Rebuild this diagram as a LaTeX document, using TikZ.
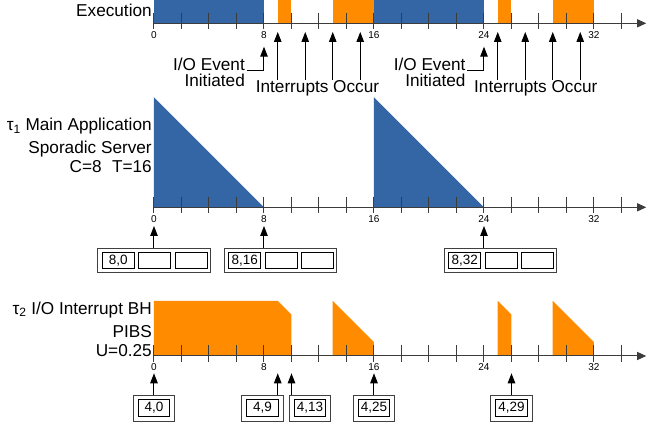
\documentclass[tikz,border=0pt]{standalone}
\usepackage{fontspec}
\setmainfont{Liberation Sans}
\usepackage{xcolor}
\usetikzlibrary{arrows.meta,positioning,calc}
\definecolor{ServerBlue}{RGB}{52,101,164}
\definecolor{BHOrange}  {RGB}{255,140,  0}
\definecolor{AxisGray}  {RGB}{ 60, 60, 60}
\tikzset{
  lbl/.style={inner sep=0pt, font=\fontsize{17.2}{19}\selectfont},
  ticklbl/.style={inner sep=0pt, font=\fontsize{10}{12}\selectfont},
  axisline/.style={AxisGray, line width=1pt, -{Triangle[length=9pt,width=8pt]}},
  tickline/.style={AxisGray, line width=1pt},
  arr/.style={line width=1pt, -{Triangle[length=10pt,width=7.5pt]}},
  shell/.style={draw=black!75, line width=0.9pt, inner sep=0pt},
  cell/.style={draw=black, fill=white, line width=0.9pt, inner sep=0pt,
               minimum width=32pt, minimum height=16.7pt,
               font=\fontsize{13.5}{14}\selectfont},
}
% time axis of one row: 2-unit ticks, labels every 8
\newcommand{\timeaxis}{%
  \draw[axisline] (0,0) -- (35.8,0);
  \foreach \t in {0,2,...,34} \draw[tickline] (\t,10.6) -- (\t,-6);
  \foreach \t in {0,8,...,32} \node[ticklbl] at (\t,-11.3) {\t};
}

\begin{document}
\begin{tikzpicture}[x=13.75pt, y=1pt]
  \useasboundingbox (-11.2,0) rectangle (35.855,-430);

  % Execution row
  \begin{scope}[yshift=-23.3pt]
    \fill[ServerBlue] (0,0)  rectangle (8,23.6);
    \fill[BHOrange]   (9,0)  rectangle (10,23.6);
    \fill[BHOrange]   (13,0) rectangle (16,23.6);
    \fill[ServerBlue] (16,0) rectangle (24,23.6);
    \fill[BHOrange]   (25,0) rectangle (26,23.6);
    \fill[BHOrange]   (29,0) rectangle (32,23.6);
    \timeaxis
    \node[lbl, anchor=base east] (exec) at (-0.15,6.3) {Execution};
    % I/O events
    \node[lbl, anchor=north east, align=right, font=\fontsize{17.2}{16}\selectfont]
      (ioA) at (6.62,-34.7) {I/O Event\\Initiated};
    \node[lbl, anchor=north east, align=right, font=\fontsize{17.2}{16}\selectfont]
      (ioB) at (22.67,-34.7) {I/O Event\\Initiated};
    \coordinate (ioTipA) at (8,-23.4);
    \coordinate (ioTipB) at (24,-23.4);
    \draw[arr] ([xshift=1.5pt,yshift=-13pt]ioA.north east) -| (ioTipA);
    \draw[arr] ([xshift=1.5pt,yshift=-13pt]ioB.north east) -| (ioTipB);
    % interrupts
    \node[lbl, anchor=north] (intA) at (11.89,-56.7) {Interrupts Occur};
    \node[lbl, anchor=north] (intB) at (27.77,-56.7) {Interrupts Occur};
    \foreach \t in {9,11,13,15} {
      \coordinate (irq\t) at (\t,-8.7);
      \draw[arr] (intA.north -| irq\t) -- (irq\t);
    }
    \foreach \t in {25,27,29,31} {
      \coordinate (irq\t) at (\t,-8.7);
      \draw[arr] (intB.north -| irq\t) -- (irq\t);
    }
  \end{scope}

  % tau_1 sporadic server row
  \begin{scope}[yshift=-207.3pt]
    \fill[ServerBlue] (0,0)  -- (0,110)  -- (8,0)  -- cycle;
    \fill[ServerBlue] (16,0) -- (16,110) -- (24,0) -- cycle;
    \timeaxis
    \node[lbl, anchor=north east, align=right] (tauA) at (-0.15,89.3)
      {τ\textsubscript{1} Main Application\\[3.5pt]Sporadic Server\\C=8\hspace{0.6em}T=16};
    % replenishment queues
    \foreach \name/\x/\tip/\val in {bufA/0/0/{8,0}, bufB/9.2/8/{8,16}, bufC/25.2/24/{8,32}} {
      \node[shell, minimum width=112.4pt, minimum height=24.4pt] (\name) at (\x,-53.2) {};
      \node[cell, anchor=west] (\name1) at ([xshift=4.5pt]\name.west) {\val};
      \node[cell, right=3.6pt of \name1] (\name2) {};
      \node[cell, right=3.6pt of \name2] (\name3) {};
      \coordinate (\name tip) at (\tip,-18.7);
      \draw[arr] (\name.north -| \name tip) -- (\name tip);
    }
  \end{scope}

  % tau_2 PIBS row
  \begin{scope}[yshift=-356pt]
    \fill[BHOrange] (0,0)  -- (0,55)  -- (9,55)  -- (10,41.25) -- (10,0) -- cycle;
    \fill[BHOrange] (13,0) -- (13,55) -- (16,13.75) -- (16,0) -- cycle;
    \fill[BHOrange] (25,0) -- (25,55) -- (26,41.25) -- (26,0) -- cycle;
    \fill[BHOrange] (29,0) -- (29,55) -- (32,13.75) -- (32,0) -- cycle;
    \timeaxis
    \node[lbl, anchor=north east, align=right, font=\fontsize{17.2}{18.5}\selectfont]
      (tauB) at (-0.15,54.3) {τ\textsubscript{2} I/O Interrupt BH\\[5pt]PIBS\\U=0.25};
    % budget replenishments
    \foreach \name/\x/\tip/\val in {repA/0/0/{4,0}, repB/7.89/9/{4,9},
        repC/11.35/10/{4,13}, repD/16/16/{4,25}, repE/26/26/{4,29}} {
      \node[shell, minimum width=41.3pt, minimum height=26pt] (\name) at (\x,-52) {};
      \node[cell, minimum width=31.6pt, minimum height=17.4pt] (\name1) at (\name) {\val};
      \coordinate (\name tip) at (\tip,-17.3);
      \draw[arr] (\name.north -| \name tip) -- (\name tip);
    }
  \end{scope}
\end{tikzpicture}
\end{document}
